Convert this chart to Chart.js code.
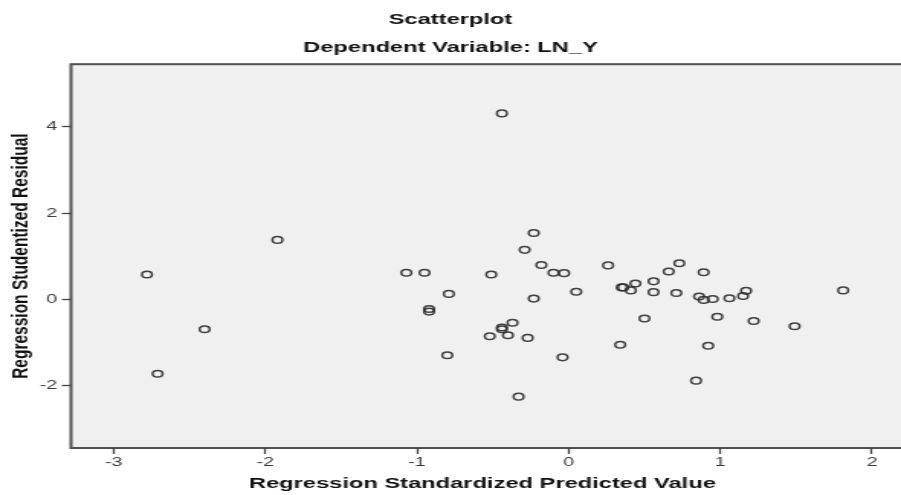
<!DOCTYPE html>
<html>
<head>
<meta charset="utf-8">
<title>Scatterplot</title>
<script src="https://cdn.jsdelivr.net/npm/chart.js@4/dist/chart.umd.min.js"></script>
<style>
  html, body { margin: 0; padding: 0; background: #fff; }
  #wrap { width: 901px; height: 495px; overflow: hidden; }
  /* the source image is stretched sideways, so the canvas is too */
  canvas { display: block; width: 901px; height: 495px; }
</style>
</head>
<body>
<div id="wrap">
  <canvas id="scatter" width="590" height="495" style="width:901px;height:495px"></canvas>
</div>
<script>
/* global Chart */

// Regression Standardized Predicted Value (x) / Studentized Residual (y)
const predicted = [
  -2.78, -2.71, -2.40, -1.92, -1.07, -0.95, -0.92, -0.92, -0.79, -0.80,
  -0.51, -0.52, -0.44, -0.44, -0.44, -0.37, -0.40, -0.33, -0.29, -0.27,
  -0.23, -0.23, -0.18, -0.10, -0.03, -0.04, 0.05, 0.26, 0.34, 0.35,
  0.36, 0.41, 0.44, 0.50, 0.56, 0.56, 0.66, 0.71, 0.73, 0.84,
  0.86, 0.89, 0.89, 0.92, 0.95, 0.98, 1.06, 1.15, 1.17, 1.22,
  1.49, 1.81,
];
const residual = [
  0.58, -1.72, -0.69, 1.38, 0.62, 0.62, -0.22, -0.28, 0.13, -1.29,
  0.58, -0.85, 4.31, -0.65, -0.69, -0.54, -0.83, -2.25, 1.15, -0.89,
  1.54, 0.02, 0.80, 0.62, 0.61, -1.34, 0.18, 0.79, -1.05, 0.28,
  0.28, 0.21, 0.37, -0.44, 0.42, 0.17, 0.65, 0.15, 0.84, -1.88,
  0.07, 0.63, -0.01, -1.07, 0.01, -0.40, 0.03, 0.08, 0.20, -0.50,
  -0.62, 0.21,
];
const xTicks = [-3, -2, -1, 0, 1, 2];
const yTicks = [-2, 0, 2, 4];

Chart.defaults.font.family = '"Liberation Sans", Arial, sans-serif';

const points = predicted.map((x, i) => ({ x, y: residual[i] }));

// light grey plot area with a dark frame, like SPSS
const plotFrame = {
  id: "plotFrame",
  beforeDraw(chart) {
    const { ctx, chartArea: a } = chart;
    ctx.save();
    ctx.fillStyle = "#f0f0f0";
    ctx.fillRect(a.left, a.top, a.right - a.left + 10, a.bottom - a.top);
    ctx.strokeStyle = "#505050";
    ctx.lineWidth = 2;
    ctx.strokeRect(a.left, a.top, a.right - a.left + 12, a.bottom - a.top);
    ctx.restore();
  },
};

function fixedTicks(values) {
  return (scale) => {
    scale.ticks = values.map((v) => ({ value: v }));
  };
}

const titleFont = { size: 15.5, weight: "bold" };

new Chart(document.getElementById("scatter"), {
  type: "scatter",
  data: {
    datasets: [{
      data: points,
      pointStyle: "circle",
      pointRadius: 3.3,
      pointHoverRadius: 3.3,
      borderWidth: 1.5,
      borderColor: "rgba(45,45,45,0.9)",
      backgroundColor: "rgba(0,0,0,0)",
    }],
  },
  options: {
    responsive: false,
    animation: false,
    devicePixelRatio: 1,
    layout: { padding: 0 },
    plugins: {
      legend: { display: false },
      tooltip: { enabled: false },
      title: {
        display: true,
        text: "Scatterplot",
        color: "#111",
        font: titleFont,
        padding: { top: 10, bottom: 10 },
      },
      subtitle: {
        display: true,
        text: "Dependent Variable: LN_Y",
        color: "#111",
        font: titleFont,
        padding: { top: 0, bottom: 7 },
      },
    },
    scales: {
      x: {
        type: "linear",
        min: -3.281,
        max: 2.143,
        afterBuildTicks: fixedTicks(xTicks),
        afterFit: (scale) => {
          scale.height = 47;
          scale.paddingLeft = 0;
          scale.paddingRight = 0;
        },
        border: { display: false },
        grid: {
          drawOnChartArea: false,
          drawTicks: true,
          tickLength: 6,
          tickColor: "#444",
          tickWidth: 1.3,
        },
        ticks: {
          color: "#3c3c3c",
          padding: 1,
          font: { size: 13 },
          maxRotation: 0,
          callback: (v) => String(v),
        },
        title: {
          display: true,
          text: "Regression Standardized Predicted Value",
          color: "#111",
          font: titleFont,
          padding: { top: 0, bottom: 2 },
        },
      },
      y: {
        type: "linear",
        min: -3.44,
        max: 5.45,
        afterBuildTicks: fixedTicks(yTicks),
        afterFit: (scale) => {
          scale.width = 46.5;
          scale.paddingTop = 0;
          scale.paddingBottom = 0;
        },
        border: { display: false },
        grid: {
          drawOnChartArea: false,
          drawTicks: true,
          tickLength: 6,
          tickColor: "#444",
          tickWidth: 1.3,
        },
        ticks: {
          color: "#3c3c3c",
          padding: 3,
          font: { size: 13 },
          callback: (v) => String(v),
        },
        title: {
          display: true,
          text: "Regression Studentized Residual",
          color: "#111",
          font: titleFont,
          padding: { top: 4, bottom: 0 },
        },
      },
    },
  },
  plugins: [plotFrame],
});
</script>
</body>
</html>
